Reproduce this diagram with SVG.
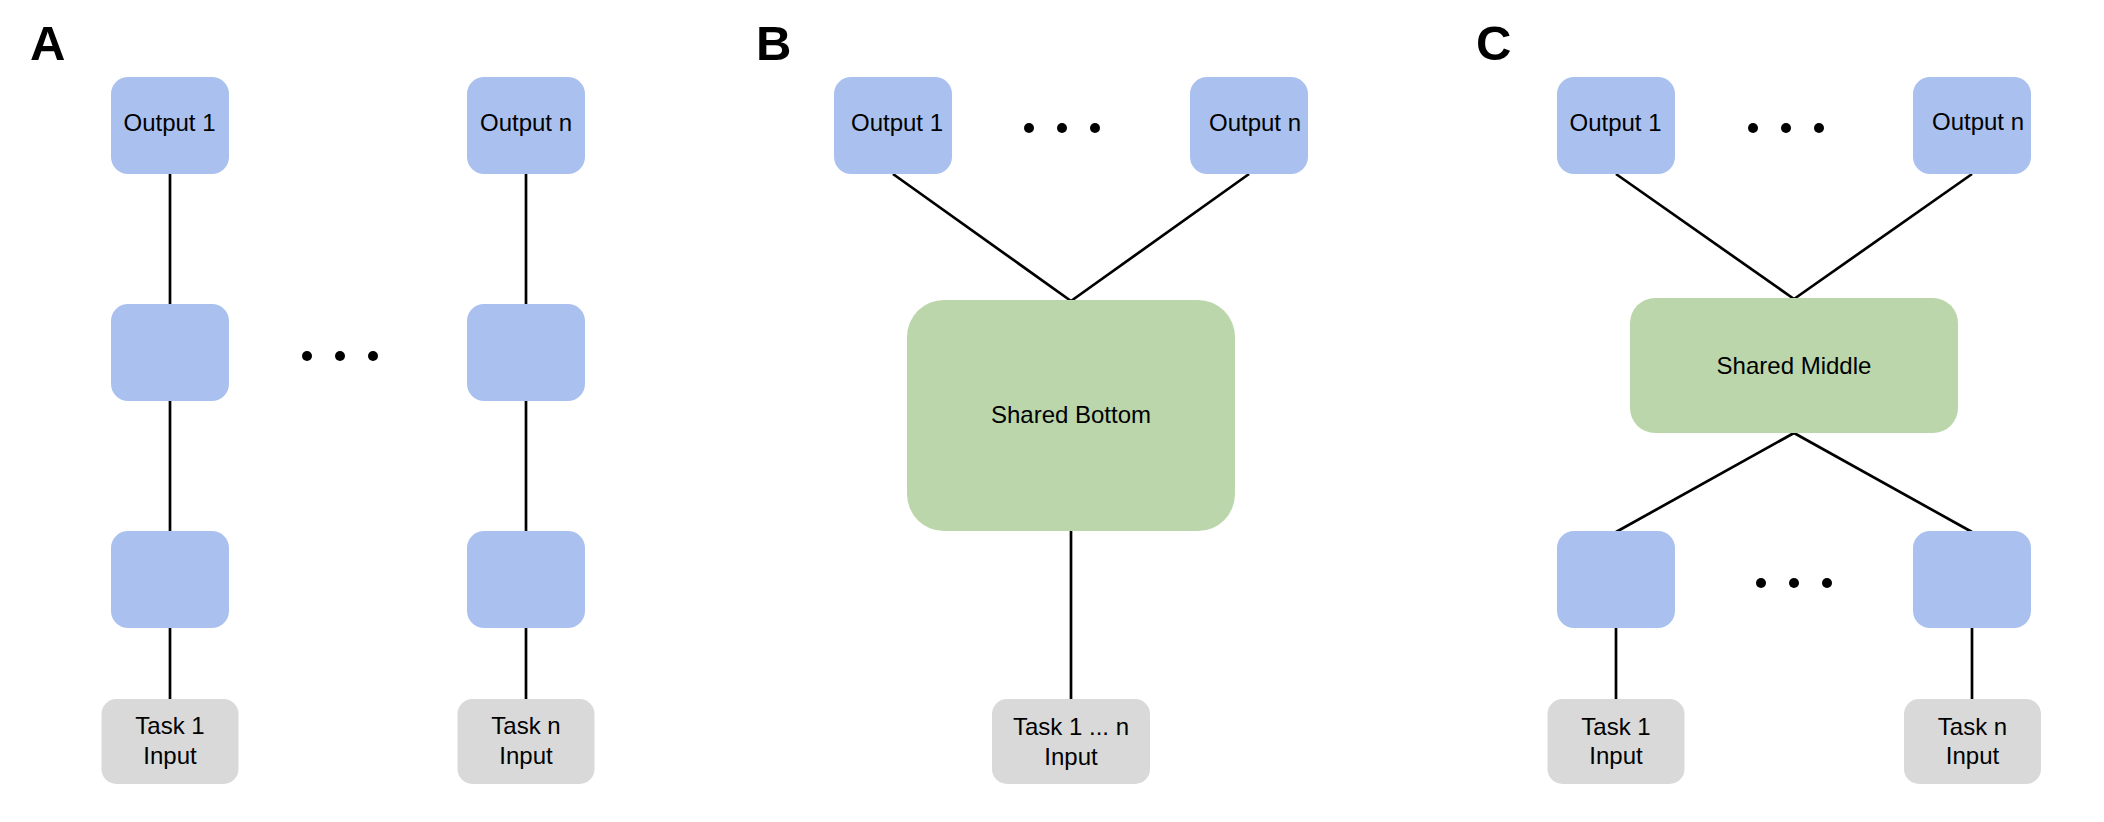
<svg xmlns="http://www.w3.org/2000/svg" width="2104" height="822" viewBox="0 0 2104 822">
<style>
.blue{fill:#aac1ef}
.green{fill:#bbd6ab}
.gray{fill:#d9d9d9}
.t{font-family:"Liberation Sans",Arial,sans-serif;font-size:24px;fill:#000;text-anchor:middle}
.lbl{font-family:"Liberation Sans",Arial,sans-serif;font-size:49px;font-weight:bold;fill:#000}
.ln{stroke:#000;stroke-width:2.7;fill:none}
.dot{fill:#000}
</style>
<rect width="2104" height="822" fill="#fff"/>
<g id="labels">
<text class="lbl" x="30" y="60">A</text>
<text class="lbl" x="756" y="60">B</text>
<text class="lbl" x="1476" y="60">C</text>
</g>
<g id="connectors">
<line class="ln" x1="170" y1="174" x2="170" y2="304"/>
<line class="ln" x1="170" y1="401" x2="170" y2="531"/>
<line class="ln" x1="170" y1="628" x2="170" y2="699"/>
<line class="ln" x1="526" y1="174" x2="526" y2="304"/>
<line class="ln" x1="526" y1="401" x2="526" y2="531"/>
<line class="ln" x1="526" y1="628" x2="526" y2="699"/>
<line class="ln" x1="893" y1="174" x2="1071" y2="301"/>
<line class="ln" x1="1249" y1="174" x2="1071" y2="301"/>
<line class="ln" x1="1071" y1="531" x2="1071" y2="699"/>
<line class="ln" x1="1616" y1="174" x2="1794" y2="299"/>
<line class="ln" x1="1972" y1="174" x2="1794" y2="299"/>
<line class="ln" x1="1794" y1="433" x2="1616" y2="532"/>
<line class="ln" x1="1794" y1="433" x2="1972" y2="532"/>
<line class="ln" x1="1616" y1="628" x2="1616" y2="699"/>
<line class="ln" x1="1972" y1="628" x2="1972" y2="699"/>
</g>
<g id="dots">
<circle class="dot" cx="307" cy="356" r="5"/>
<circle class="dot" cx="340" cy="356" r="5"/>
<circle class="dot" cx="373" cy="356" r="5"/>
<circle class="dot" cx="1029" cy="128" r="5"/>
<circle class="dot" cx="1062" cy="128" r="5"/>
<circle class="dot" cx="1095" cy="128" r="5"/>
<circle class="dot" cx="1753" cy="128" r="5"/>
<circle class="dot" cx="1786" cy="128" r="5"/>
<circle class="dot" cx="1819" cy="128" r="5"/>
<circle class="dot" cx="1761" cy="583" r="5"/>
<circle class="dot" cx="1794" cy="583" r="5"/>
<circle class="dot" cx="1827" cy="583" r="5"/>
</g>
<!-- Panel A -->
<g id="a-output1"><rect class="blue" x="111" y="77" width="118" height="97" rx="17"/><text class="t" x="169.5" y="131">Output 1</text></g>
<g id="a-mid1"><rect class="blue" x="111" y="304" width="118" height="97" rx="17"/></g>
<g id="a-low1"><rect class="blue" x="111" y="531" width="118" height="97" rx="17"/></g>
<g id="a-task1"><rect class="gray" x="101.5" y="699" width="137" height="85" rx="15"/><text class="t" x="170" y="734">Task 1</text><text class="t" x="170" y="764">Input</text></g>
<g id="a-outputn"><rect class="blue" x="467" y="77" width="118" height="97" rx="17"/><text class="t" x="526" y="131">Output n</text></g>
<g id="a-midn"><rect class="blue" x="467" y="304" width="118" height="97" rx="17"/></g>
<g id="a-lown"><rect class="blue" x="467" y="531" width="118" height="97" rx="17"/></g>
<g id="a-taskn"><rect class="gray" x="457.5" y="699" width="137" height="85" rx="15"/><text class="t" x="526" y="734">Task n</text><text class="t" x="526" y="764">Input</text></g>
<!-- Panel B -->
<g id="b-output1"><rect class="blue" x="834" y="77" width="118" height="97" rx="17"/><text class="t" x="897" y="131">Output 1</text></g>
<g id="b-outputn"><rect class="blue" x="1190" y="77" width="118" height="97" rx="17"/><text class="t" x="1255" y="131">Output n</text></g>
<g id="b-shared"><rect class="green" x="907" y="300" width="328" height="231" rx="37"/><text class="t" x="1071" y="423">Shared Bottom</text></g>
<g id="b-task"><rect class="gray" x="992" y="699" width="158" height="85" rx="15"/><text class="t" x="1071" y="735">Task 1 ... n</text><text class="t" x="1071" y="765">Input</text></g>
<!-- Panel C -->
<g id="c-output1"><rect class="blue" x="1557" y="77" width="118" height="97" rx="17"/><text class="t" x="1615.5" y="131">Output 1</text></g>
<g id="c-outputn"><rect class="blue" x="1913" y="77" width="118" height="97" rx="17"/><text class="t" x="1978" y="130">Output n</text></g>
<g id="c-shared"><rect class="green" x="1630" y="298" width="328" height="135" rx="25"/><text class="t" x="1794" y="374">Shared Middle</text></g>
<g id="c-low1"><rect class="blue" x="1557" y="531" width="118" height="97" rx="17"/></g>
<g id="c-lown"><rect class="blue" x="1913" y="531" width="118" height="97" rx="17"/></g>
<g id="c-task1"><rect class="gray" x="1547.5" y="699" width="137" height="85" rx="15"/><text class="t" x="1616" y="735">Task 1</text><text class="t" x="1616" y="764">Input</text></g>
<g id="c-taskn"><rect class="gray" x="1904" y="699" width="137" height="85" rx="15"/><text class="t" x="1972.5" y="735">Task n</text><text class="t" x="1972.5" y="764">Input</text></g>
</svg>
